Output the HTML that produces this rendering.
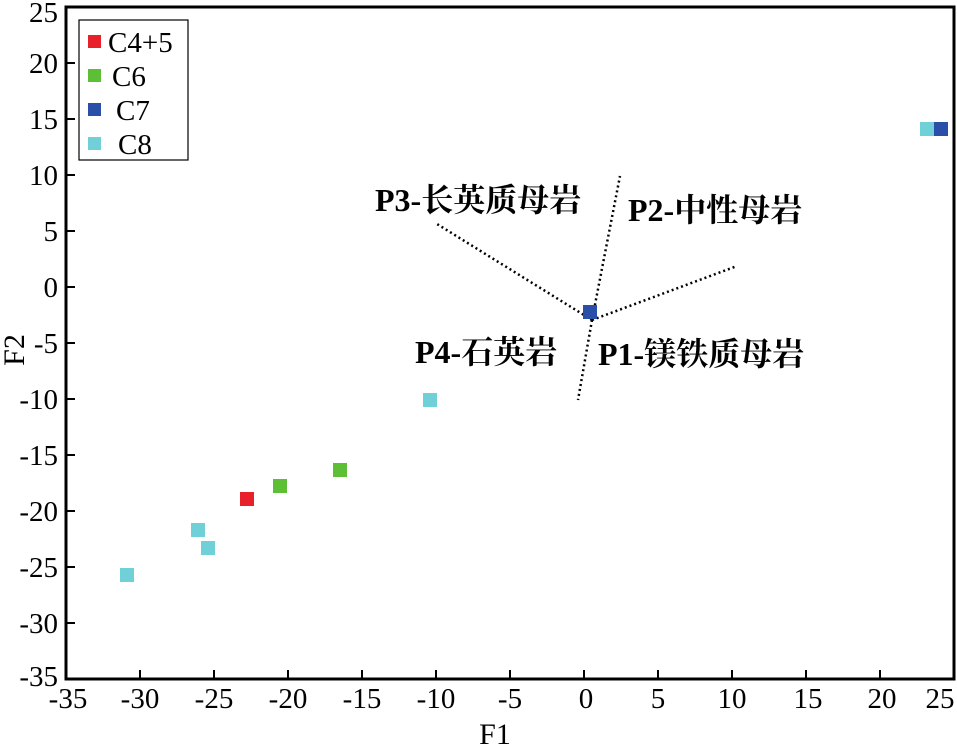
<!DOCTYPE html>
<html><head><meta charset="utf-8"><style>body{margin:0;background:#fff} svg text{font-family:"Liberation Serif","Noto Serif CJK SC",serif}</style></head><body>
<svg width="957" height="747" xmlns="http://www.w3.org/2000/svg">
<rect x="66" y="7" width="888" height="672" fill="none" stroke="#000" stroke-width="3"/>
<g stroke="#000" stroke-width="2">
<line x1="140" y1="679" x2="140" y2="670"/><line x1="214" y1="679" x2="214" y2="670"/><line x1="288" y1="679" x2="288" y2="670"/><line x1="362" y1="679" x2="362" y2="670"/><line x1="436" y1="679" x2="436" y2="670"/><line x1="510" y1="679" x2="510" y2="670"/><line x1="584" y1="679" x2="584" y2="670"/><line x1="658" y1="679" x2="658" y2="670"/><line x1="732" y1="679" x2="732" y2="670"/><line x1="806" y1="679" x2="806" y2="670"/><line x1="880" y1="679" x2="880" y2="670"/>
<line x1="66" y1="63" x2="75" y2="63"/><line x1="66" y1="119" x2="75" y2="119"/><line x1="66" y1="175" x2="75" y2="175"/><line x1="66" y1="231" x2="75" y2="231"/><line x1="66" y1="287" x2="75" y2="287"/><line x1="66" y1="343" x2="75" y2="343"/><line x1="66" y1="399" x2="75" y2="399"/><line x1="66" y1="455" x2="75" y2="455"/><line x1="66" y1="511" x2="75" y2="511"/><line x1="66" y1="567" x2="75" y2="567"/><line x1="66" y1="623" x2="75" y2="623"/>
</g>
<g font-size="29" text-anchor="middle">
<text x="68" y="708">-35</text><text x="140" y="708">-30</text><text x="214" y="708">-25</text><text x="288" y="708">-20</text><text x="362" y="708">-15</text><text x="436" y="708">-10</text><text x="510" y="708">-5</text><text x="586" y="708">0</text><text x="658" y="708">5</text><text x="732" y="708">10</text><text x="808" y="708">15</text><text x="882" y="708">20</text><text x="940" y="708">25</text>
<text x="495" y="744" font-size="30">F1</text>
</g>
<g font-size="29" text-anchor="end">
<text x="58" y="22">25</text><text x="58" y="73">20</text><text x="58" y="129">15</text><text x="58" y="185">10</text><text x="58" y="241">5</text><text x="58" y="297">0</text><text x="58" y="353">-5</text><text x="58" y="409">-10</text><text x="58" y="465">-15</text><text x="58" y="521">-20</text><text x="58" y="577">-25</text><text x="58" y="633">-30</text><text x="58" y="686">-35</text>
</g>
<text transform="translate(24,350) rotate(-90)" font-size="30" text-anchor="middle">F2</text>
<rect x="79" y="20" width="109" height="140" fill="#fff" stroke="#000" stroke-width="1.2"/>
<rect x="88" y="35" width="13" height="13" fill="#e8202a"/><text x="108" y="52" font-size="29">C4+5</text>
<rect x="88" y="69" width="13" height="13" fill="#5cbf35"/><text x="112" y="86" font-size="29">C6</text>
<rect x="88" y="103" width="13" height="13" fill="#2a4fa8"/><text x="116" y="120" font-size="29">C7</text>
<rect x="88" y="137" width="13" height="13" fill="#6fd0d8"/><text x="118" y="154" font-size="29">C8</text>
<g stroke="#000" stroke-width="2.5" stroke-dasharray="2,3" fill="none">
<line x1="592" y1="320" x2="437" y2="224"/><line x1="592" y1="320" x2="620" y2="176"/><line x1="592" y1="320" x2="737" y2="266"/><line x1="592" y1="320" x2="578" y2="400"/>
</g>
<g font-size="32" font-weight="bold">
<text x="375" y="211">P3-长英质母岩</text><text x="628" y="221">P2-中性母岩</text><text x="415" y="363">P4-石英岩</text><text x="598" y="365">P1-镁铁质母岩</text>
</g>
<g>
<rect x="240" y="492" width="14" height="14" fill="#e8202a"/>
<rect x="273" y="479" width="14" height="14" fill="#5cbf35"/><rect x="333" y="463" width="14" height="14" fill="#5cbf35"/>
<rect x="120" y="568" width="14" height="14" fill="#6fd0d8"/><rect x="191" y="523" width="14" height="14" fill="#6fd0d8"/><rect x="201" y="541" width="14" height="14" fill="#6fd0d8"/><rect x="423" y="393" width="14" height="14" fill="#6fd0d8"/><rect x="920" y="122" width="14" height="14" fill="#6fd0d8"/>
<rect x="583" y="305" width="14" height="14" fill="#2a4fa8"/><rect x="934" y="122" width="14" height="14" fill="#2a4fa8"/>
</g>
</svg>
</body></html>
